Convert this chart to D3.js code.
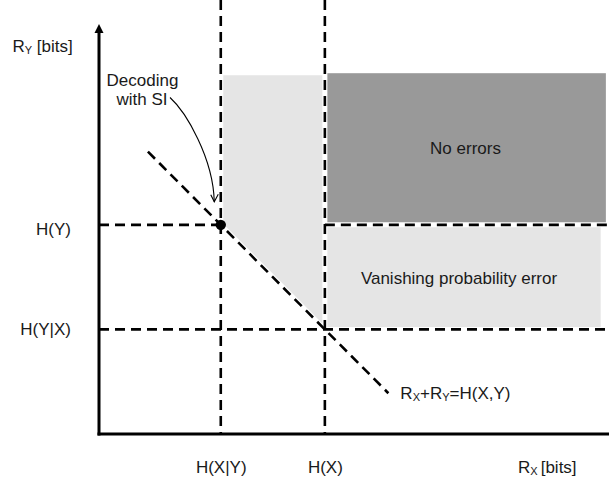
<!DOCTYPE html>
<html>
<head>
<meta charset="utf-8">
<script src="https://cdn.jsdelivr.net/npm/d3@7"></script>
<style>
  html, body { margin: 0; padding: 0; background: #fff; }
  svg { display: block; font-family: "Liberation Sans", Arial, sans-serif; }
  text { fill: #1a1a1a; }
</style>
</head>
<body>
<svg id="chart" width="609" height="484"></svg>
<script>
// Slepian–Wolf rate region (entropies in bits)
const xTickValues = [1.17, 2.17];           // H(X|Y), H(X)
const xTickLabels = ["H(X|Y)", "H(X)"];
const yTickValues = [1.0, 2.0];             // H(Y|X), H(Y)
const yTickLabels = ["H(Y|X)", "H(Y)"];
const jointEntropy = 3.17;                  // H(X,Y)
const diagonalSpan = [0.47, 2.78];          // R_X range of the sum-rate line
const regionLabels = ["Vanishing probability error", "No errors"];
const regionTops = [3.43, 3.45];            // upper limit drawn for each region
const regionRights = [4.82, 4.87];          // right limit drawn for each region

const [hXgY, hX] = xTickValues;
const [hYgX, hY] = yTickValues;

const svg = d3.select("#chart");
const W = 609, H = 484;

const x = d3.scaleLinear().domain([0, 4.9]).range([99, 609]);
const y = d3.scaleLinear().domain([0, 4.15]).range([434, 0]);

const LIGHT = "#e5e5e5", DARK = "#999999";

// Achievable region with vanishing error probability
const lightPoly = [
  [hXgY, regionTops[0]],
  [hXgY, hY],
  [hX, hYgX],
  [regionRights[0], hYgX],
  [regionRights[0], regionTops[0]]
];
svg.append("path")
  .attr("d", d3.line().x(d => x(d[0])).y(d => y(d[1]))(lightPoly) + "Z")
  .attr("fill", LIGHT);

// Region decodable without errors
svg.append("rect")
  .attr("x", x(hX)).attr("y", y(regionTops[1]))
  .attr("width", x(regionRights[1]) - x(hX))
  .attr("height", y(hY) - y(regionTops[1]))
  .attr("fill", DARK);

// Dashed guide lines, each with a white halo under the dashes
const guides = [
  [[hXgY, 4.15], [hXgY, 0]],
  [[hX, 4.15], [hX, 0]],
  [[0, hY], [hXgY, hY]],
  [[hX, hY], [4.9, hY]],
  [[0, hYgX], [4.9, hYgX]],
  [[diagonalSpan[0], jointEntropy - diagonalSpan[0]],
   [diagonalSpan[1], jointEntropy - diagonalSpan[1]]]
];
const lineGen = d3.line().x(d => x(d[0])).y(d => y(d[1]));
const guideG = svg.append("g");
guideG.selectAll("path.halo").data(guides).join("path")
  .attr("class", "halo")
  .attr("d", lineGen)
  .attr("stroke", "#fff").attr("stroke-width", 5).attr("fill", "none");
guideG.selectAll("path.dash").data(guides).join("path")
  .attr("class", "dash")
  .attr("d", lineGen)
  .attr("stroke", "#000").attr("stroke-width", 2.6)
  .attr("stroke-dasharray", "10,6").attr("fill", "none");

// Axes
const xAxis = d3.axisBottom(x)
  .tickValues(xTickValues)
  .tickFormat((d, i) => xTickLabels[i])
  .tickSize(0).tickPadding(27);
const yAxis = d3.axisLeft(y)
  .tickValues(yTickValues)
  .tickFormat((d, i) => yTickLabels[i])
  .tickSize(0).tickPadding(28);

const gx = svg.append("g").attr("transform", `translate(0,${y(0)})`).call(xAxis);
const gy = svg.append("g").attr("transform", `translate(${x(0)},0)`).call(yAxis);
[gx, gy].forEach(g => {
  g.select(".domain").remove();
  g.attr("font-size", 17).attr("font-family", "Liberation Sans, Arial, sans-serif");
  g.selectAll("text").attr("fill", "#1a1a1a");
});
gy.selectAll(".tick text").attr("dy", d => d === hY ? "0.55em" : "0.32em");

svg.append("line")
  .attr("x1", x(0) - 1.5).attr("x2", W)
  .attr("y1", y(0)).attr("y2", y(0))
  .attr("stroke", "#000").attr("stroke-width", 3);
svg.append("line")
  .attr("x1", x(0)).attr("x2", x(0))
  .attr("y1", y(0) + 1.5).attr("y2", 31)
  .attr("stroke", "#000").attr("stroke-width", 3);
svg.append("path")
  .attr("d", `M${x(0)},24 L${x(0) - 4.5},33 L${x(0) + 4.5},33 Z`)
  .attr("fill", "#000");

// Axis titles
const yTitle = svg.append("text").attr("x", 12.5).attr("y", 51.5).attr("font-size", 17);
yTitle.append("tspan").text("R");
yTitle.append("tspan").attr("font-size", 11).attr("dy", 2).text("Y");
yTitle.append("tspan").attr("dy", -2).text(" [bits]");

const xTitle = svg.append("text").attr("x", 518).attr("y", 473).attr("font-size", 17);
xTitle.append("tspan").text("R");
xTitle.append("tspan").attr("font-size", 11).attr("dy", 2).text("X ");
xTitle.append("tspan").attr("dy", -2).text("[bits]");

// Sum-rate line label
const sumLabel = svg.append("text")
  .attr("x", x(diagonalSpan[1]) + 12).attr("y", 398.5).attr("font-size", 17);
sumLabel.append("tspan").text("R");
sumLabel.append("tspan").attr("font-size", 11).attr("dy", 2).text("X");
sumLabel.append("tspan").attr("dy", -2).text("+R");
sumLabel.append("tspan").attr("font-size", 11).attr("dy", 2).text("Y");
sumLabel.append("tspan").attr("dy", -2).text("=H(X,Y)");

// Region labels
svg.append("text").attr("x", 459).attr("y", 283.5)
  .attr("text-anchor", "middle").attr("font-size", 17).text(regionLabels[0]);
svg.append("text").attr("x", 465.5).attr("y", 154)
  .attr("text-anchor", "middle").attr("font-size", 17).text(regionLabels[1]);

// Corner point: decoding Y first, then X with side information
const px = x(hXgY), py = y(hY);
svg.append("circle").attr("cx", px).attr("cy", py).attr("r", 5.2).attr("fill", "#000");

const note = svg.append("text").attr("text-anchor", "middle").attr("font-size", 17);
note.append("tspan").attr("x", 142.5).attr("y", 85.5).text("Decoding");
note.append("tspan").attr("x", 142).attr("y", 104.5).text("with SI");

const tipX = px - 6.5, tipY = py - 23;
const arrow = d3.path();
arrow.moveTo(170, 97.5);
arrow.bezierCurveTo(186, 112, tipX - 1, 158, tipX, tipY);
svg.append("path").attr("d", arrow.toString())
  .attr("fill", "none").attr("stroke", "#000").attr("stroke-width", 1.1);
svg.append("path")
  .attr("d", `M${tipX - 3.5},${tipY - 7} L${tipX},${tipY} L${tipX + 4},${tipY - 7.5}`)
  .attr("fill", "none").attr("stroke", "#000").attr("stroke-width", 1.1);
</script>
</body>
</html>
